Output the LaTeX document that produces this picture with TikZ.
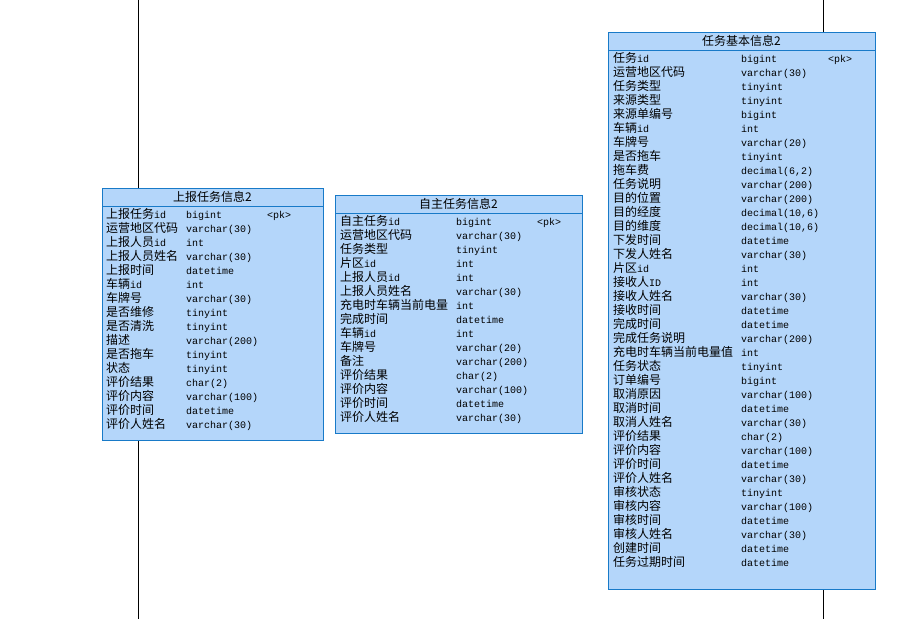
\documentclass[tikz,border=0pt]{standalone}
\usepackage{fontspec}
\setmainfont{Liberation Sans}
\newfontfamily\cjk{Noto Sans CJK SC}
\newfontfamily\monof{Liberation Mono}
\newcommand\mm[1]{{\monof\fontsize{10}{12}\selectfont #1}}
\definecolor{tblfill}{RGB}{180,214,250}
\definecolor{tblline}{RGB}{24,122,200}
\begin{document}
\begin{tikzpicture}[x=1pt,y=-1pt,
  tbl/.style={draw=tblline,fill=tblfill,line width=1pt,anchor=north west,inner sep=0pt},
  sep/.style={draw=tblline,line width=1pt},
  ttl/.style={font=\cjk\fontsize{12}{14}\selectfont,anchor=base,inner sep=0pt},
  nm/.style={font=\cjk\fontsize{12}{14}\selectfont,anchor=base west,inner sep=0pt},
  ty/.style={font=\monof\fontsize{10}{12}\selectfont,anchor=base west,inner sep=0pt},
  vl/.style={draw=black,line width=1pt}]
\useasboundingbox[fill=white] (0,0) rectangle (912,619);

% vertical lines
\coordinate (la) at (138,0);
\coordinate (lb) at (138,619);
\coordinate (ra) at (823,0);
\coordinate (rb) at (823,619);

% Table 1
\node[tbl,minimum width=221pt,minimum height=252pt] (t1) at (102,188) {};
\draw[sep] ([yshift=-18pt]t1.north west) -- ([yshift=-18pt]t1.north east);
\node[ttl] (h1) at (212.5,201) {上报任务信息2};
\foreach \n/\t [count=\i from 0] in {
  上报任务\mm{id}/bigint,
  运营地区代码/{varchar(30)},
  上报人员\mm{id}/int,
  上报人员姓名/{varchar(30)},
  上报时间/datetime,
  车辆\mm{id}/int,
  车牌号/{varchar(30)},
  是否维修/tinyint,
  是否清洗/tinyint,
  描述/{varchar(200)},
  是否拖车/tinyint,
  状态/tinyint,
  评价结果/{char(2)},
  评价内容/{varchar(100)},
  评价时间/datetime,
  评价人姓名/{varchar(30)}}{
  \node[nm] (an\i) at (106,218.5+14*\i) {\n};
  \node[ty] (at\i) at (186,218.5+14*\i) {\t};
}
\node[ty] (ap) at (267,218.5) {<pk>};

% Table 2
\node[tbl,minimum width=247pt,minimum height=238pt] (t2) at (335,195) {};
\draw[sep] ([yshift=-18pt]t2.north west) -- ([yshift=-18pt]t2.north east);
\node[ttl] (h2) at (458.5,208) {自主任务信息2};
\foreach \n/\t [count=\i from 0] in {
  自主任务\mm{id}/bigint,
  运营地区代码/{varchar(30)},
  任务类型/tinyint,
  片区\mm{id}/int,
  上报人员\mm{id}/int,
  上报人员姓名/{varchar(30)},
  充电时车辆当前电量/int,
  完成时间/datetime,
  车辆\mm{id}/int,
  车牌号/{varchar(20)},
  备注/{varchar(200)},
  评价结果/{char(2)},
  评价内容/{varchar(100)},
  评价时间/datetime,
  评价人姓名/{varchar(30)}}{
  \node[nm] (bn\i) at (340,225.5+14*\i) {\n};
  \node[ty] (bt\i) at (456,225.5+14*\i) {\t};
}
\node[ty] (bp) at (537,225.5) {<pk>};

% Table 3
\node[tbl,minimum width=267pt,minimum height=557pt] (t3) at (608,32) {};
\draw[sep] ([yshift=-18pt]t3.north west) -- ([yshift=-18pt]t3.north east);
\node[ttl] (h3) at (741.5,45) {任务基本信息2};
\foreach \n/\t [count=\i from 0] in {
  任务\mm{id}/bigint,
  运营地区代码/{varchar(30)},
  任务类型/tinyint,
  来源类型/tinyint,
  来源单编号/bigint,
  车辆\mm{id}/int,
  车牌号/{varchar(20)},
  是否拖车/tinyint,
  拖车费/{decimal(6,2)},
  任务说明/{varchar(200)},
  目的位置/{varchar(200)},
  目的经度/{decimal(10,6)},
  目的维度/{decimal(10,6)},
  下发时间/datetime,
  下发人姓名/{varchar(30)},
  片区\mm{id}/int,
  接收人\mm{ID}/int,
  接收人姓名/{varchar(30)},
  接收时间/datetime,
  完成时间/datetime,
  完成任务说明/{varchar(200)},
  充电时车辆当前电量值/int,
  任务状态/tinyint,
  订单编号/bigint,
  取消原因/{varchar(100)},
  取消时间/datetime,
  取消人姓名/{varchar(30)},
  评价结果/{char(2)},
  评价内容/{varchar(100)},
  评价时间/datetime,
  评价人姓名/{varchar(30)},
  审核状态/tinyint,
  审核内容/{varchar(100)},
  审核时间/datetime,
  审核人姓名/{varchar(30)},
  创建时间/datetime,
  任务过期时间/datetime}{
  \node[nm] (cn\i) at (613,62.5+14*\i) {\n};
  \node[ty] (ct\i) at (741,62.5+14*\i) {\t};
}
\node[ty] (cp) at (828,62.5) {<pk>};

% connectors (vertical lines)
\draw[vl] (la) -- (la |- t1.north);
\draw[vl] (t1.south -| lb) -- (lb);
\draw[vl] (ra) -- (ra |- t3.north);
\draw[vl] (t3.south -| rb) -- (rb);
\end{tikzpicture}
\end{document}
